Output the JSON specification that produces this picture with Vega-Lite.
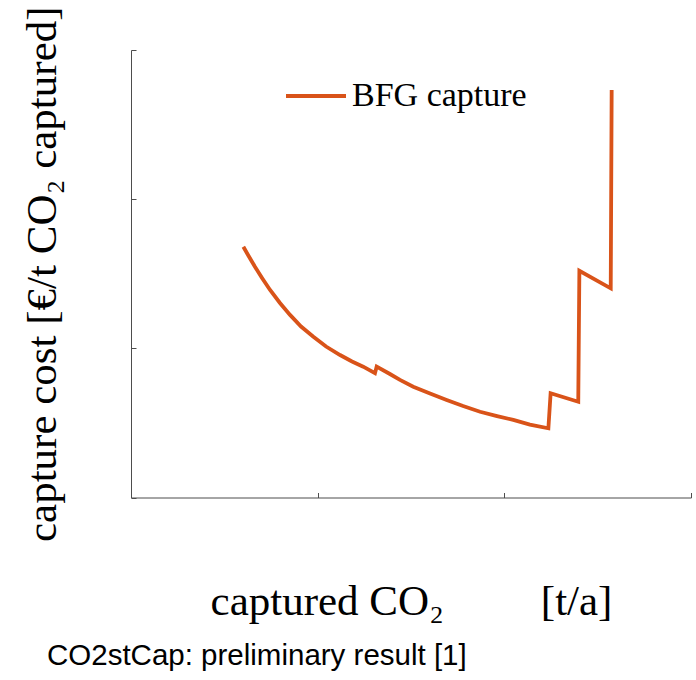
{
  "$schema": "https://vega.github.io/schema/vega-lite/v6.json",
  "autosize": {"type": "none"},
  "padding": {"left": 131, "top": 50, "right": 5, "bottom": 182},
  "width": 560,
  "height": 447.5,
  "background": "white",
  "title": {
    "text": "CO2stCap: preliminary result [1]",
    "orient": "bottom",
    "anchor": "start",
    "frame": "group",
    "dx": -84,
    "offset": 19,
    "font": "Liberation Sans",
    "fontSize": 29.5,
    "fontWeight": "normal",
    "color": "black",
    "baseline": "top"
  },
  "data": {
    "values": [
      {"order": 1, "x": 0.602, "y": 1.681, "series": "BFG capture"},
      {"order": 2, "x": 0.627, "y": 1.626, "series": "BFG capture"},
      {"order": 3, "x": 0.664, "y": 1.547, "series": "BFG capture"},
      {"order": 4, "x": 0.702, "y": 1.472, "series": "BFG capture"},
      {"order": 5, "x": 0.745, "y": 1.391, "series": "BFG capture"},
      {"order": 6, "x": 0.798, "y": 1.304, "series": "BFG capture"},
      {"order": 7, "x": 0.852, "y": 1.224, "series": "BFG capture"},
      {"order": 8, "x": 0.911, "y": 1.146, "series": "BFG capture"},
      {"order": 9, "x": 0.977, "y": 1.078, "series": "BFG capture"},
      {"order": 10, "x": 1.045, "y": 1.012, "series": "BFG capture"},
      {"order": 11, "x": 1.120, "y": 0.955, "series": "BFG capture"},
      {"order": 12, "x": 1.184, "y": 0.912, "series": "BFG capture"},
      {"order": 13, "x": 1.244, "y": 0.877, "series": "BFG capture"},
      {"order": 14, "x": 1.307, "y": 0.833, "series": "BFG capture"},
      {"order": 15, "x": 1.316, "y": 0.877, "series": "BFG capture"},
      {"order": 16, "x": 1.387, "y": 0.828, "series": "BFG capture"},
      {"order": 17, "x": 1.441, "y": 0.788, "series": "BFG capture"},
      {"order": 18, "x": 1.512, "y": 0.743, "series": "BFG capture"},
      {"order": 19, "x": 1.602, "y": 0.697, "series": "BFG capture"},
      {"order": 20, "x": 1.691, "y": 0.654, "series": "BFG capture"},
      {"order": 21, "x": 1.779, "y": 0.613, "series": "BFG capture"},
      {"order": 22, "x": 1.870, "y": 0.575, "series": "BFG capture"},
      {"order": 23, "x": 1.961, "y": 0.546, "series": "BFG capture"},
      {"order": 24, "x": 2.048, "y": 0.520, "series": "BFG capture"},
      {"order": 25, "x": 2.137, "y": 0.489, "series": "BFG capture"},
      {"order": 26, "x": 2.236, "y": 0.464, "series": "BFG capture"},
      {"order": 27, "x": 2.248, "y": 0.699, "series": "BFG capture"},
      {"order": 28, "x": 2.396, "y": 0.642, "series": "BFG capture"},
      {"order": 29, "x": 2.402, "y": 1.520, "series": "BFG capture"},
      {"order": 30, "x": 2.570, "y": 1.402, "series": "BFG capture"},
      {"order": 31, "x": 2.575, "y": 2.732, "series": "BFG capture"}
    ]
  },
  "mark": {"type": "line", "strokeWidth": 3.8, "strokeCap": "butt", "strokeJoin": "miter"},
  "encoding": {
    "x": {
      "field": "x",
      "type": "quantitative",
      "scale": {"domain": [0, 3], "nice": false, "zero": false},
      "axis": {
        "values": [0, 1, 2, 3],
        "labels": false,
        "grid": false,
        "tickSize": -5,
        "title": "captured CO₂\u2003\u2003 [t/a]",
        "titleFont": "Liberation Serif",
        "titleFontSize": 43,
        "titleFontWeight": "normal",
        "titleColor": "black",
        "titlePadding": 82
      }
    },
    "y": {
      "field": "y",
      "type": "quantitative",
      "scale": {"domain": [0, 3], "nice": false, "zero": false},
      "axis": {
        "values": [0, 1, 2, 3],
        "labels": false,
        "grid": false,
        "tickSize": -5,
        "title": "capture cost [€/t CO₂ captured]",
        "titleFont": "Liberation Serif",
        "titleFontSize": 43,
        "titleFontWeight": "normal",
        "titleColor": "black",
        "titlePadding": 66
      }
    },
    "color": {
      "field": "series",
      "type": "nominal",
      "scale": {"range": ["#D95319"]},
      "legend": {
        "title": null,
        "orient": "none",
        "legendX": 153,
        "legendY": 14,
        "padding": 0,
        "symbolType": "stroke",
        "symbolSize": 3600,
        "symbolStrokeWidth": 3.8,
        "labelFont": "Liberation Serif",
        "labelFontSize": 34,
        "labelColor": "black",
        "labelOffset": 4,
        "labelLimit": 400
      }
    },
    "order": {"field": "order", "type": "quantitative"}
  },
  "config": {
    "view": {"stroke": null},
    "axis": {
      "domainColor": "#4d4d4d",
      "tickColor": "#4d4d4d",
      "domainWidth": 1,
      "tickWidth": 1
    }
  }
}
